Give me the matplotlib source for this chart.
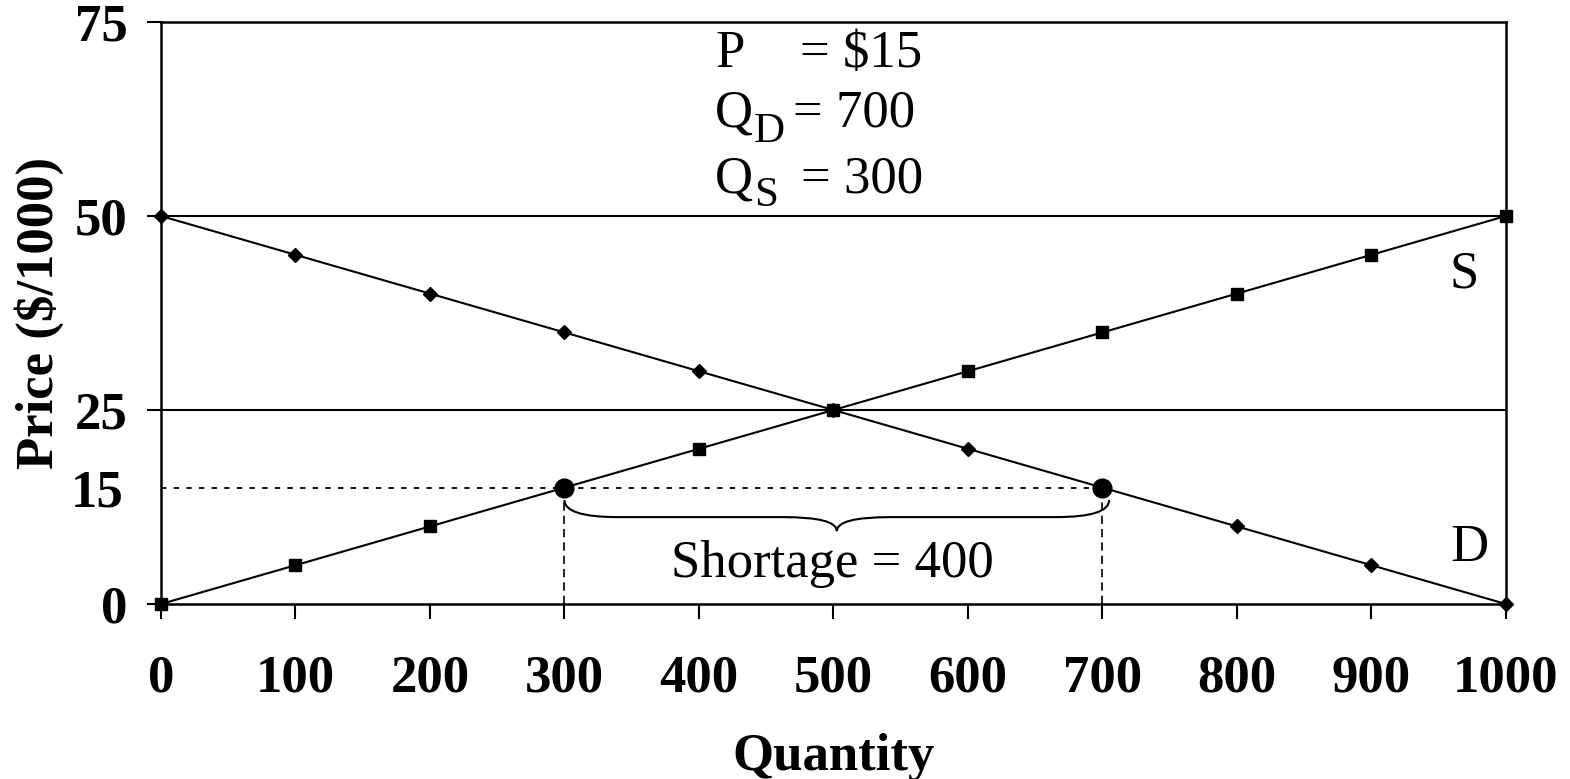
import matplotlib
matplotlib.use('Agg')

import matplotlib.pyplot as plt
from matplotlib.path import Path
from matplotlib.patches import PathPatch

plt.rcParams['font.family'] = ['Liberation Serif', 'DejaVu Serif']

# data
quantity = [0, 100, 200, 300, 400, 500, 600, 700, 800, 900, 1000]
demand = [50, 45, 40, 35, 30, 25, 20, 15, 10, 5, 0]
supply = [0, 5, 10, 15, 20, 25, 30, 35, 40, 45, 50]
ceiling_price = 15
q_supplied = 300
q_demanded = 700
y_ticks = [0, 25, 50, 75]
grid_levels = [25, 50]

FS = 38
SUB_FS = 31

fig = plt.figure(figsize=(15.7, 7.79), dpi=100)
ax = fig.add_axes([0.1025, 0.2246, 0.9592 - 0.1025, 0.9718 - 0.2246])

for lvl in grid_levels:
  ax.axhline(lvl, color='black', lw=1.5, zorder=1)

ax.plot(quantity, demand, color='black', lw=1.5, marker='D', markersize=7,
        clip_on=False, zorder=5)
ax.plot(quantity, supply, color='black', lw=1.5, marker='s', markersize=8,
        clip_on=False, zorder=5)

# price ceiling guides
ax.plot([0, q_demanded], [ceiling_price, ceiling_price], color='black', lw=1.3,
        linestyle=(0, (3, 4)), zorder=2)
for q in (q_supplied, q_demanded):
  ax.plot([q, q], [0, ceiling_price], color='black', lw=1.2,
          linestyle=(0, (5, 3)), zorder=2)
ax.plot([q_supplied, q_demanded], [ceiling_price, ceiling_price], 'o',
        color='black', markersize=13.5, zorder=6)

# curly brace under the shortage
x0, x1 = q_supplied, q_demanded + 5
xm = (x0 + x1) / 2.0
y_end, y_mid, y_tip = 13.4, 11.2, 9.4
dx = 40
verts = [(x0, y_end), (x0, y_mid), (x0 + dx, y_mid),
         (xm - dx, y_mid), (xm, y_mid), (xm, y_tip),
         (xm, y_mid), (xm + dx, y_mid),
         (x1 - dx, y_mid), (x1, y_mid), (x1, y_end)]
codes = [Path.MOVETO, Path.CURVE3, Path.CURVE3,
         Path.LINETO, Path.CURVE3, Path.CURVE3,
         Path.CURVE3, Path.CURVE3,
         Path.LINETO, Path.CURVE3, Path.CURVE3]
ax.add_patch(PathPatch(Path(verts, codes), facecolor='none', edgecolor='black',
                       lw=1.5, zorder=3))

ax.text(xm - 3, 3.5, 'Shortage = 400', fontsize=FS, ha='center', va='baseline')
ax.text(969, 40.8, 'S', fontsize=FS, ha='center', va='baseline')
ax.text(973, 5.5, 'D', fontsize=FS, ha='center', va='baseline')

# P / QD / QS box
ax.text(412, 69.2, 'P', fontsize=FS, ha='left', va='baseline')
ax.text(475, 69.2, '= $15', fontsize=FS, ha='left', va='baseline')
ax.text(412, 61.5, 'Q', fontsize=FS, ha='left', va='baseline')
ax.text(441, 59.5, 'D', fontsize=SUB_FS, ha='left', va='baseline')
ax.text(470, 61.5, '= 700', fontsize=FS, ha='left', va='baseline')
ax.text(412, 53.0, 'Q', fontsize=FS, ha='left', va='baseline')
ax.text(441, 51.3, 'S', fontsize=SUB_FS, ha='left', va='baseline')
ax.text(476, 53.0, '= 300', fontsize=FS, ha='left', va='baseline')

ax.set_xlim(0, 1000)
ax.set_ylim(0, 75)
ax.set_xticks(quantity)
ax.set_yticks(y_ticks)
ax.set_yticks([ceiling_price], minor=True)
ax.set_yticklabels([str(ceiling_price)], minor=True)
ax.tick_params(axis='both', which='major', direction='out', width=1.5,
               labelsize=FS)
ax.tick_params(axis='x', which='major', length=11, pad=25)
ax.tick_params(axis='y', which='major', length=10, pad=14)
ax.tick_params(axis='y', which='minor', length=0, pad=27, labelsize=FS)
for lab in ax.get_xticklabels() + ax.get_yticklabels(which='both'):
  lab.set_fontweight('bold')

for sp in ax.spines.values():
  sp.set_linewidth(1.8)

ax.set_xlabel('Quantity', fontsize=FS, fontweight='bold', labelpad=22)
ax.set_ylabel('Price ($/1000)', fontsize=FS, fontweight='bold', labelpad=5)

plt.savefig('out.png', dpi=100)
